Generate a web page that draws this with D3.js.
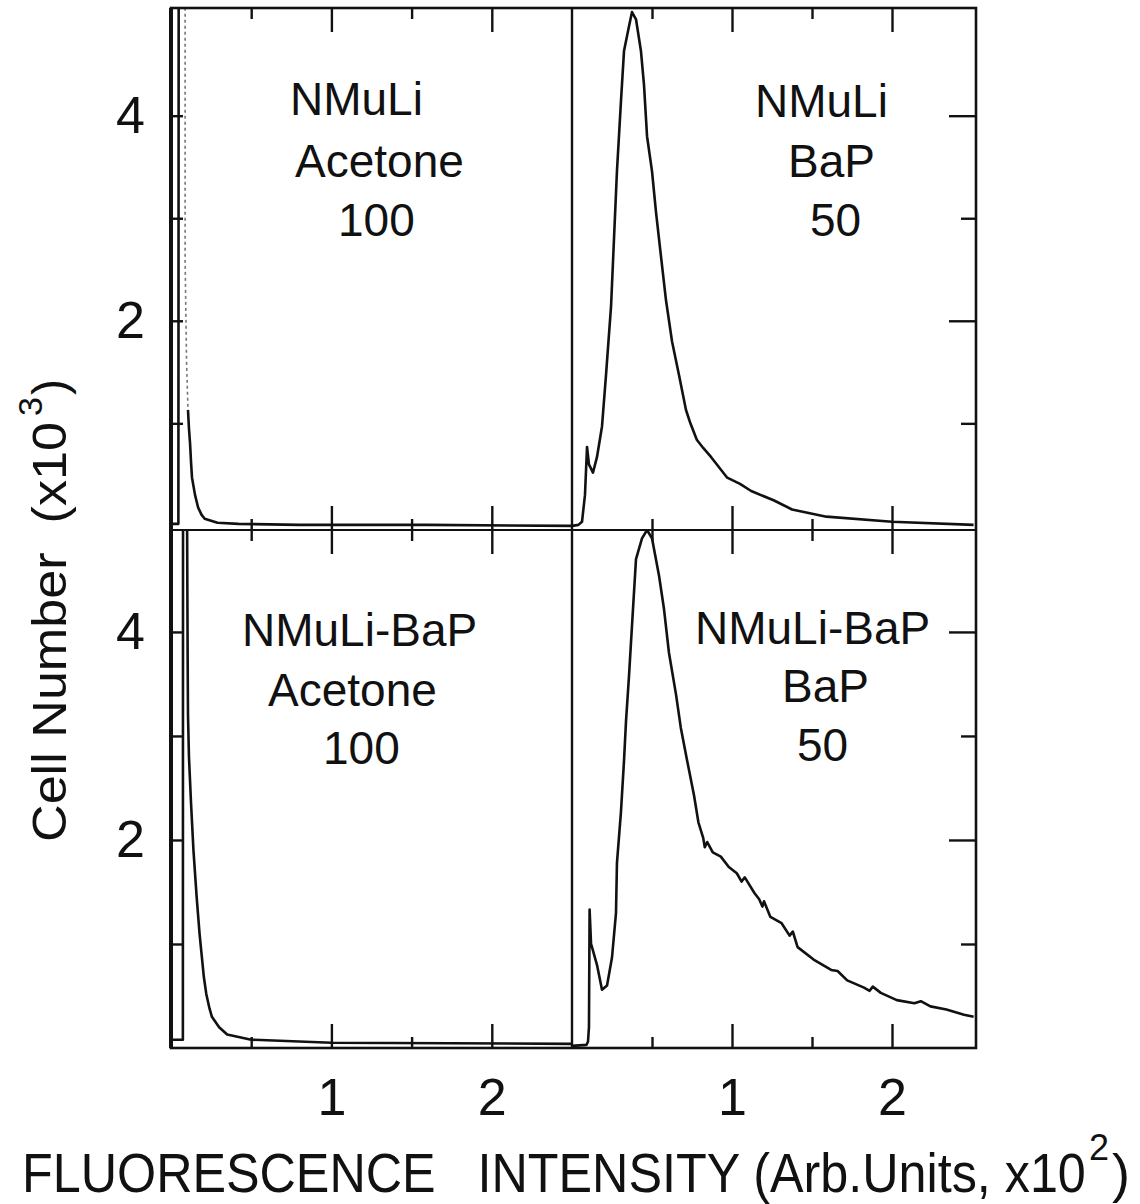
<!DOCTYPE html>
<html>
<head>
<meta charset="utf-8">
<script src="https://cdn.jsdelivr.net/npm/d3@7"></script>
<style>
  body { margin: 0; background: #fff; }
  svg { display: block; background: #fff; }
  text { font-family: "Liberation Sans", Arial, sans-serif; fill: #111; }
</style>
</head>
<body>
<svg width="1140" height="1204"></svg>
<script>
// ---- DATA ----
// x: fluorescence intensity (x10^2), y: cell number (x10^3)
const xMajorTicks = [1, 2];
const xMinorTicks = [0.5, 1.5];
const xTickLabels = ["1", "2"];
const yMajorTicks = [2, 4];
const yMinorTicks = [1, 3];
const yTickLabels = ["2", "4"];

const cellLines = ["NMuLi", "NMuLi-BaP"];
const treatments = ["Acetone", "BaP"];
const doses = ["100", "50"];

// NMuLi / Acetone 100 (top left): off-scale spike, faint pen return, then tail
const nmuliAcetoneSpike = [[0, 0.02], [0.046, 0.02], [0.048, 5.3]];
const nmuliAcetoneFaint = [[0.06, 5.3], [0.088, 5.3], [0.088, 2.6], [0.097, 1.6], [0.106, 1.13]];
const nmuliAcetoneTrace = [
  [0.106, 1.13], [0.112, 0.95], [0.119, 0.8], [0.125, 0.62], [0.131, 0.47], [0.15, 0.3],
  [0.169, 0.18], [0.19, 0.11], [0.21, 0.07], [0.29, 0.03], [0.42, 0.02], [0.8, 0.01],
  [1.6, 0.01], [2.5, 0.0]
];

// NMuLi / BaP 50 (top right)
const nmuliBaP = [
  [0, 0], [0.04, 0.01], [0.0625, 0.04], [0.081, 0.3], [0.094, 0.77], [0.106, 0.6],
  [0.131, 0.52], [0.156, 0.67], [0.1875, 0.97], [0.2125, 1.47], [0.244, 2.14],
  [0.2625, 2.8], [0.281, 3.46], [0.306, 4.14], [0.325, 4.63], [0.356, 4.87],
  [0.375, 5.01], [0.4, 4.94], [0.431, 4.63], [0.45, 4.3], [0.469, 3.8], [0.5, 3.46],
  [0.525, 3.06], [0.556, 2.63], [0.5875, 2.2], [0.625, 1.8], [0.669, 1.47],
  [0.7125, 1.13], [0.74, 1.0], [0.78, 0.84], [0.82, 0.76], [0.87, 0.67], [0.97, 0.47],
  [1.05, 0.41], [1.12, 0.34], [1.26, 0.25], [1.375, 0.16], [1.59, 0.09], [2.0, 0.04],
  [2.51, 0.01]
];

// NMuLi-BaP / Acetone 100 (bottom left)
const nmuliBaPAcetoneSpike = [[0, 0.08], [0.074, 0.08], [0.075, 5.2]];
const nmuliBaPAcetoneTrace = [
  [0.1, 5.2], [0.102, 4.4], [0.104, 3.7], [0.106, 3.2], [0.112, 2.8], [0.125, 2.35],
  [0.14, 1.9], [0.16, 1.45], [0.178, 1.1], [0.192, 0.88], [0.205, 0.68], [0.22, 0.52],
  [0.24, 0.38], [0.255, 0.3], [0.3, 0.2], [0.35, 0.13], [0.5, 0.08], [1.0, 0.05],
  [2.5, 0.04]
];

// NMuLi-BaP / BaP 50 (bottom right)
const nmuliBaPBaP = [
  [0, 0.02], [0.09, 0.03], [0.1, 0.06], [0.106, 0.2], [0.11, 1.33], [0.119, 1.0],
  [0.125, 0.97], [0.156, 0.8], [0.1875, 0.56], [0.219, 0.6], [0.25, 0.87], [0.275, 1.3],
  [0.281, 1.78], [0.306, 2.27], [0.325, 2.76], [0.3375, 3.14], [0.356, 3.57],
  [0.375, 4.06], [0.4, 4.7], [0.4375, 4.9], [0.469, 4.98], [0.5, 4.9], [0.544, 4.54],
  [0.575, 4.22], [0.606, 3.8], [0.65, 3.4], [0.68, 3.08], [0.72, 2.76], [0.7625, 2.43],
  [0.79, 2.17], [0.82, 2.02], [0.83, 1.93], [0.845, 1.98], [0.88, 1.88], [0.93, 1.84],
  [0.98, 1.74], [1.03, 1.68], [1.06, 1.6], [1.08, 1.64], [1.14, 1.49], [1.17, 1.43],
  [1.19, 1.36], [1.2, 1.41], [1.24, 1.26], [1.31, 1.2], [1.36, 1.08], [1.38, 1.12],
  [1.41, 0.97], [1.51, 0.85], [1.62, 0.75], [1.66, 0.74], [1.72, 0.65], [1.825, 0.58],
  [1.86, 0.55], [1.88, 0.59], [1.93, 0.53], [2.03, 0.46], [2.14, 0.43], [2.18, 0.45],
  [2.24, 0.4], [2.34, 0.37], [2.45, 0.32], [2.51, 0.3]
];

// ---- LAYOUT ----
const svg = d3.select("svg");
const colX = [[171, 572], [572, 976]];
const rowY = [[8, 530], [530, 1048]];
const xDomains = [[0, 2.5], [0, 2.525]];
const yDomains = [[-0.04, 5.05], [0, 4.98]];

const xScales = colX.map((r, i) => d3.scaleLinear().domain(xDomains[i]).range(r));
const yScales = rowY.map((r, i) => d3.scaleLinear().domain(yDomains[i]).range([r[1], r[0]]));

const panels = [
  { row: 0, col: 0, label: [cellLines[0], treatments[0], doses[0]],
    pos: [[290, 115], [295, 177], [338, 236]],
    solid: [nmuliAcetoneSpike, nmuliAcetoneTrace], faint: [nmuliAcetoneFaint] },
  { row: 0, col: 1, label: [cellLines[0], treatments[1], doses[1]],
    pos: [[755, 117], [788, 177], [810, 236]],
    solid: [nmuliBaP], faint: [] },
  { row: 1, col: 0, label: [cellLines[1], treatments[0], doses[0]],
    pos: [[242, 646], [268, 706], [323, 764]],
    solid: [nmuliBaPAcetoneSpike, nmuliBaPAcetoneTrace], faint: [] },
  { row: 1, col: 1, label: [cellLines[1], treatments[1], doses[1]],
    pos: [[695, 644], [782, 702], [797, 761]],
    solid: [nmuliBaPBaP], faint: [] }
];

const defs = svg.append("defs");

function tickAxis(g, axis) {
  g.call(axis);
  g.select(".domain").remove();
  g.selectAll("line").attr("stroke", "#111").attr("stroke-width", 2.4);
}

panels.forEach((p, i) => {
  const x = xScales[p.col];
  const y = yScales[p.row];
  const [x0, x1] = colX[p.col];
  const [y0, y1] = rowY[p.row];

  defs.append("clipPath").attr("id", "clip" + i)
    .append("rect").attr("x", x0).attr("y", y0).attr("width", x1 - x0).attr("height", y1 - y0);

  const g = svg.append("g");

  // ticks along top and bottom edges (pointing inward)
  [[xMajorTicks, 24], [xMinorTicks, 11]].forEach(([vals, len]) => {
    tickAxis(g.append("g").attr("transform", `translate(0,${y0})`),
      d3.axisBottom(x).tickValues(vals).tickSize(len).tickFormat(""));
    tickAxis(g.append("g").attr("transform", `translate(0,${y1})`),
      d3.axisTop(x).tickValues(vals).tickSize(len).tickFormat(""));
  });

  if (p.col === 1) {
    [[yMajorTicks, 27], [yMinorTicks, 15]].forEach(([vals, len]) => {
      tickAxis(g.append("g").attr("transform", `translate(${x1},0)`),
        d3.axisLeft(y).tickValues(vals).tickSize(len).tickFormat(""));
    });
  } else {
    tickAxis(g.append("g").attr("transform", `translate(${x0},0)`),
      d3.axisRight(y).tickValues(yMajorTicks.concat(yMinorTicks)).tickSize(12).tickFormat(""));
  }

  const line = d3.line().x(d => x(d[0])).y(d => y(d[1]));
  const plot = g.append("g").attr("clip-path", `url(#clip${i})`);

  plot.selectAll("path.faint").data(p.faint).join("path")
    .attr("class", "faint")
    .attr("d", line)
    .attr("fill", "none")
    .attr("stroke", "#777")
    .attr("stroke-width", 1.6)
    .attr("stroke-dasharray", "3,3");

  plot.selectAll("path.trace").data(p.solid).join("path")
    .attr("class", "trace")
    .attr("d", line)
    .attr("fill", "none")
    .attr("stroke", "#111")
    .attr("stroke-width", 2.6)
    .attr("stroke-linejoin", "round");

  g.selectAll("text.lbl").data(p.label).join("text")
    .attr("class", "lbl")
    .attr("x", (d, k) => p.pos[k][0])
    .attr("y", (d, k) => p.pos[k][1])
    .attr("font-size", 46)
    .text(d => d);
});

// frame
svg.append("rect")
  .attr("x", 171).attr("y", 8).attr("width", 976 - 171).attr("height", 1048 - 8)
  .attr("fill", "none").attr("stroke", "#111").attr("stroke-width", 2.6);
svg.append("line").attr("x1", 171).attr("x2", 171).attr("y1", 8).attr("y2", 1048)
  .attr("stroke", "#111").attr("stroke-width", 4);
svg.append("line").attr("x1", 572).attr("x2", 572).attr("y1", 8).attr("y2", 1048)
  .attr("stroke", "#111").attr("stroke-width", 2.4);
svg.append("line").attr("x1", 171).attr("x2", 976).attr("y1", 530).attr("y2", 530)
  .attr("stroke", "#111").attr("stroke-width", 2.2);

// tick labels
xScales.forEach(x => {
  const ax = svg.append("g").attr("transform", "translate(0,1048)")
    .call(d3.axisBottom(x).tickValues(xMajorTicks).tickSize(0).tickPadding(30)
      .tickFormat((d, k) => xTickLabels[k]));
  ax.select(".domain").remove();
  ax.selectAll("text").attr("font-size", 52).attr("font-family", null);
});
yScales.forEach(y => {
  const ax = svg.append("g").attr("transform", "translate(171,0)")
    .call(d3.axisLeft(y).tickValues(yMajorTicks).tickSize(0).tickPadding(26)
      .tickFormat((d, k) => yTickLabels[k]));
  ax.select(".domain").remove();
  ax.selectAll("text").attr("font-size", 52).attr("font-family", null);
});

// axis titles: squeeze to the narrow lettering with a scale transform
function squeezed(str, size, width, place) {
  const t = svg.append("text").attr("font-size", size).style("white-space", "pre").text(str);
  const k = width / t.node().getComputedTextLength();
  t.attr("transform", `${place} scale(${k},1)`);
  return t;
}

squeezed("Cell Number  (x10", 48, 420, "translate(66,842) rotate(-90)");
svg.append("text")
  .attr("transform", "translate(42,416) rotate(-90)")
  .attr("font-size", 34)
  .text("3");
svg.append("text")
  .attr("transform", "translate(66,395) rotate(-90)")
  .attr("font-size", 48)
  .text(")");

squeezed("FLUORESCENCE   INTENSITY (Arb.Units, x10", 56, 1064, "translate(22,1192)");
svg.append("text")
  .attr("x", 1089).attr("y", 1160)
  .attr("font-size", 36)
  .text("2");
svg.append("text")
  .attr("x", 1112).attr("y", 1192)
  .attr("font-size", 54)
  .text(")");
</script>
</body>
</html>
